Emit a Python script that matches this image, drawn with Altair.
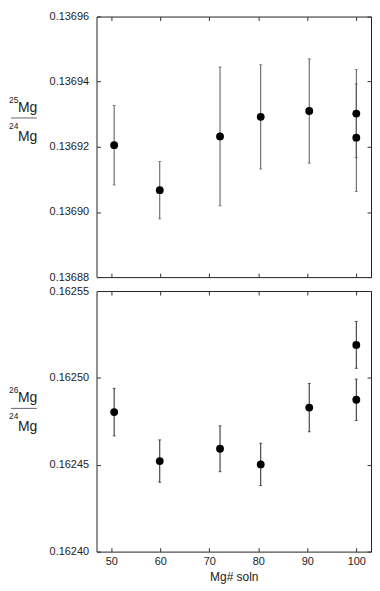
import altair as alt
import pandas as pd

# ---- data ----
mg_soln = [50.6, 59.9, 72.2, 80.5, 90.4, 100.0, 100.0]

r25 = [0.1369205, 0.1369067, 0.1369232, 0.1369292, 0.1369310, 0.1369302, 0.1369228]
r25_err = [0.0000122, 0.0000088, 0.0000213, 0.0000160, 0.0000160, 0.0000135, 0.0000165]

r26 = [0.1624803, 0.1624521, 0.1624592, 0.1624502, 0.1624829, 0.1625190, 0.1624874]
r26_err = [0.0000137, 0.0000122, 0.0000132, 0.0000122, 0.0000139, 0.0000135, 0.0000119]

x_ticks = [50, 60, 70, 80, 90, 100]
y25_ticks = [0.13688, 0.13690, 0.13692, 0.13694, 0.13696]
y26_ticks = [0.16240, 0.16245, 0.16250, 0.16255]

X_DOMAIN = [47, 103]
W, H = 276, 262
FONT = "Liberation Sans"
TXT = "#222222"


def panel(values, errs, yticks, sup_top, line_y, bar_color, show_x):
    df = pd.DataFrame({
        "mg": mg_soln,
        "val": values,
        "lo": [v - e for v, e in zip(values, errs)],
        "hi": [v + e for v, e in zip(values, errs)],
    })
    xs = alt.Scale(domain=X_DOMAIN, nice=False, zero=False)
    ys = alt.Scale(domain=[yticks[0], yticks[-1]], nice=False, zero=False)
    base = alt.Chart(df)

    x_axis = alt.Axis(orient="bottom", values=x_ticks, offset=-4, tickSize=4,
                      domain=False, grid=False, labels=show_x, labelFontSize=11,
                      labelPadding=4, labelColor=TXT, tickColor="#333",
                      title="Mg# soln" if show_x else None, titleFontSize=12,
                      titleFontWeight="normal", titleColor=TXT, titlePadding=5)
    y_axis = alt.Axis(orient="left", values=yticks, format=".5f", offset=-4,
                      tickSize=4, domain=False, grid=False, labelFontSize=11,
                      labelPadding=8, labelColor=TXT, tickColor="#333", title=None)

    bars = base.mark_rule(color=bar_color, strokeWidth=1).encode(
        x=alt.X("mg:Q", scale=xs, axis=None),
        y=alt.Y("lo:Q", scale=ys, axis=None),
        y2="hi:Q",
    )
    cap_hi = base.mark_tick(orient="horizontal", size=3, thickness=1, color=bar_color).encode(
        x=alt.X("mg:Q", scale=xs, axis=None),
        y=alt.Y("hi:Q", scale=ys, axis=None),
    )
    cap_lo = base.mark_tick(orient="horizontal", size=3, thickness=1, color=bar_color).encode(
        x=alt.X("mg:Q", scale=xs, axis=None),
        y=alt.Y("lo:Q", scale=ys, axis=None),
    )
    pts = base.mark_circle(size=62, color="black", opacity=1).encode(
        x=alt.X("mg:Q", scale=xs, axis=x_axis),
        y=alt.Y("val:Q", scale=ys, axis=y_axis),
    )
    mirror = base.mark_point(opacity=0).encode(
        x=alt.X("mg:Q", scale=xs, axis=alt.Axis(orient="top", values=x_ticks, labels=False,
                                                 offset=-4, tickSize=4, domain=False,
                                                 grid=False, tickColor="#333", title=None)),
        y=alt.Y("val:Q", scale=ys, axis=alt.Axis(orient="right", values=yticks, labels=False,
                                                  offset=-4, tickSize=4, domain=False,
                                                  grid=False, tickColor="#333", title=None)),
    )

    one = alt.Chart(pd.DataFrame({"a": [0]}))
    t_sup1 = one.mark_text(align="left", baseline="alphabetic", fontSize=8.5, font=FONT,
                           color=TXT).encode(x=alt.value(-88), y=alt.value(line_y - 15),
                                             text=alt.value(sup_top))
    t_mg1 = one.mark_text(align="left", baseline="alphabetic", fontSize=14, font=FONT,
                          color=TXT).encode(x=alt.value(-79), y=alt.value(line_y - 6),
                                            text=alt.value("Mg"))
    frac = one.mark_rule(color="#666", strokeWidth=1).encode(
        x=alt.value(-86), x2=alt.value(-60), y=alt.value(line_y))
    t_sup2 = one.mark_text(align="left", baseline="alphabetic", fontSize=8.5, font=FONT,
                           color=TXT).encode(x=alt.value(-88), y=alt.value(line_y + 11),
                                             text=alt.value("24"))
    t_mg2 = one.mark_text(align="left", baseline="alphabetic", fontSize=14, font=FONT,
                          color=TXT).encode(x=alt.value(-79), y=alt.value(line_y + 23),
                                            text=alt.value("Mg"))

    return alt.layer(bars, cap_hi, cap_lo, pts, mirror,
                     t_sup1, t_mg1, frac, t_sup2, t_mg2).resolve_axis(
        x="independent", y="independent").properties(width=W, height=H)


top = panel(r25, r25_err, y25_ticks, "25", 102, "#555555", False)
bottom = panel(r26, r26_err, y26_ticks, "26", 118, "#222222", True)

chart = alt.vconcat(top, bottom, spacing=1).properties(padding=0).configure_view(
    stroke="#222", strokeWidth=1
).configure_axis(labelFont=FONT, titleFont=FONT).configure_text(font=FONT)

chart.save("out.html", embed_options={"renderer": "svg", "actions": False})
